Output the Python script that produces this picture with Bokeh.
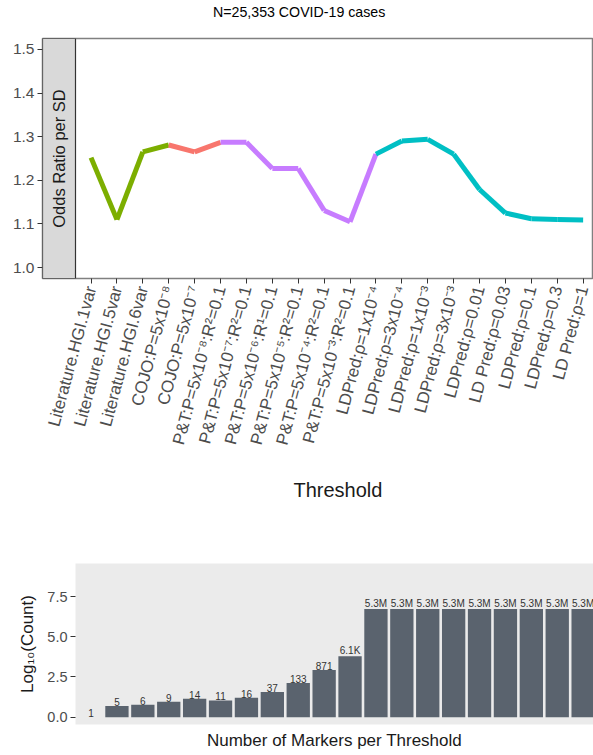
import math
import numpy as np
from bokeh.plotting import figure
from bokeh.models import (ColumnDataSource, FixedTicker, NumeralTickFormatter,
                          BoxAnnotation, Label, Title, Div)
from bokeh.layouts import column
from bokeh.embed import file_html
from bokeh.resources import INLINE
from bokeh.core.properties import value

# ---------------- data ----------------
thresholds = [
    "Literature.HGI.1var", "Literature.HGI.5var", "Literature.HGI.6var",
    "COJO:P=5x10⁻⁸", "COJO:P=5x10⁻⁷",
    "P&T:P=5x10⁻⁸:R²=0.1", "P&T:P=5x10⁻⁷:R²=0.1", "P&T:P=5x10⁻⁶:R¹=0.1",
    "P&T:P=5x10⁻⁵:R²=0.1", "P&T:P=5x10⁻⁴:R²=0.1", "P&T:P=5x10⁻³:R²=0.1",
    "LDPred:ρ=1x10⁻⁴", "LDPred:ρ=3x10⁻⁴", "LDPred:ρ=1x10⁻³", "LDPred:ρ=3x10⁻³",
    "LDPred:ρ=0.01", "LD Pred:ρ=0.03", "LDPred:ρ=0.1", "LDPred:ρ=0.3", "LD Pred:ρ=1",
]
groups = ["Literature", "Literature", "Literature",
          "COJO", "COJO",
          "P&T", "P&T", "P&T", "P&T", "P&T", "P&T",
          "LDPred", "LDPred", "LDPred", "LDPred", "LDPred",
          "LDPred", "LDPred", "LDPred", "LDPred"]
odds_ratio = [1.252, 1.110, 1.265, 1.281, 1.265,
              1.287, 1.287, 1.227, 1.227, 1.131, 1.105,
              1.260, 1.290, 1.294, 1.260, 1.179, 1.125, 1.112, 1.110, 1.109]
group_colors = {"Literature": "#7CAE00", "COJO": "#F8766D",
                "P&T": "#C77CFF", "LDPred": "#00BFC4"}
or_ticks = [1.0, 1.1, 1.2, 1.3, 1.4, 1.5]

marker_counts = [1, 5, 6, 9, 14, 11, 16, 37, 133, 871, 6100,
                 5300000, 5300000, 5300000, 5300000, 5300000,
                 5300000, 5300000, 5300000, 5300000]
count_ticks = [0.0, 2.5, 5.0, 7.5]

FONT = "Liberation Sans"
TICK_COL = "#4D4D4D"
DARK = "#333333"


def fmt_count(c):
    if c >= 1e6:
        return f"{c/1e6:.1f}M"
    if c >= 1e3:
        return f"{c/1e3:.1f}K"
    return str(c)


n = len(thresholds)
x_idx = list(range(n))

# ---------------- title ----------------
title_div = Div(text="N=25,353 COVID-19 cases", width=593, height=24,
                margin=0,
                styles={"font-family": FONT, "font-size": "14.2px",
                        "line-height": "24px", "text-indent": "213px",
                        "color": "#000000", "white-space": "nowrap"})

# ---------------- top panel ----------------
PPU = 25.9                 # pixels per category
STRIP_PX = 33
Y0, Y1 = 0.975, 1.525
x_start = -0.6 - STRIP_PX / PPU
x_end = -0.6 + 518 / PPU

p1 = figure(frame_width=551, frame_height=240,
            min_border_left=42, min_border_right=0,
            min_border_top=14, min_border_bottom=252,
            x_range=(x_start, x_end), y_range=(Y0, Y1),
            output_backend="svg", toolbar_location=None)
p1.frame_align = False

seg_src = ColumnDataSource(dict(
    x0=x_idx[:-1], x1=x_idx[1:],
    y0=odds_ratio[:-1], y1=odds_ratio[1:],
    color=[group_colors[g] for g in groups[:-1]],
))
p1.segment("x0", "y0", "x1", "y1", source=seg_src, line_color="color",
           line_width=5, line_cap="butt")

strip = BoxAnnotation(right=x_start + STRIP_PX / PPU, fill_color="#D9D9D9",
                      fill_alpha=1.0, line_color=DARK, line_width=1.2,
                      line_alpha=1.0)
p1.add_layout(strip)
p1.add_layout(Label(x=x_start + STRIP_PX / 2 / PPU, y=(Y0 + Y1) / 2,
                    text="Odds Ratio per SD", angle=math.pi / 2,
                    text_align="center", text_baseline="middle",
                    text_font=FONT, text_font_size="16.5px",
                    text_color="#1A1A1A"))

p1.xgrid.grid_line_color = None
p1.ygrid.grid_line_color = None
p1.outline_line_color = "#808080"
p1.outline_line_width = 1.5

p1.xaxis.ticker = FixedTicker(ticks=x_idx)
p1.xaxis.major_label_overrides = {i: lab for i, lab in enumerate(thresholds)}
p1.xaxis.major_label_orientation = math.radians(75)
p1.yaxis.ticker = FixedTicker(ticks=or_ticks)
p1.yaxis.formatter = NumeralTickFormatter(format="0.0")
for ax in (p1.xaxis, p1.yaxis):
    ax.axis_line_color = None
    ax.major_tick_in = 0
    ax.major_tick_out = 5
    ax.minor_tick_line_color = None
    ax.major_tick_line_color = DARK
    ax.major_label_text_color = TICK_COL
    ax.major_label_text_font = FONT
p1.xaxis.major_label_text_font_size = "17px"
p1.yaxis.major_label_text_font_size = "15.5px"
p1.xaxis.major_label_standoff = 3
p1.yaxis.major_label_standoff = 3

p1.add_layout(Title(text="Threshold", align="left", offset=251,
                    text_font=FONT, text_font_size="20px",
                    text_font_style="normal", text_color="#1A1A1A",
                    standoff=49), "below")

# ---------------- bottom panel ----------------
log_counts = [float(np.log10(c)) for c in marker_counts]
count_labels = [fmt_count(c) for c in marker_counts]

p2 = figure(frame_width=518, frame_height=161,
            min_border_left=75, min_border_right=0,
            min_border_top=33, min_border_bottom=31,
            x_range=(-0.6, x_end), y_range=(-0.455, 9.555),
            background_fill_color="#EBEBEB",
            output_backend="svg", toolbar_location=None)
p2.frame_align = False

bar_src = ColumnDataSource(dict(x=x_idx, top=log_counts, label=count_labels))
p2.vbar(x="x", top="top", bottom=0, width=0.9, source=bar_src,
        fill_color="#5A636E", line_color=None)
p2.text(x="x", y="top", text="label", source=bar_src,
        text_align="center", text_baseline="bottom",
        text_font=value(FONT), text_font_size="10px", text_color="#333333")

p2.xgrid.grid_line_color = None
p2.ygrid.grid_line_color = None
p2.outline_line_color = None

p2.xaxis.ticker = FixedTicker(ticks=[])
p2.xaxis.axis_line_color = None
p2.xaxis.major_tick_out = 0
p2.xaxis.major_tick_in = 0
p2.xaxis.minor_tick_line_color = None
p2.xaxis.axis_label = "Number of Markers per Threshold"
p2.xaxis.axis_label_standoff = 6

p2.yaxis.ticker = FixedTicker(ticks=count_ticks)
p2.yaxis.formatter = NumeralTickFormatter(format="0.0")
p2.yaxis.axis_line_color = None
p2.yaxis.major_tick_in = 0
p2.yaxis.major_tick_out = 5
p2.yaxis.minor_tick_line_color = None
p2.yaxis.major_tick_line_color = DARK
p2.yaxis.major_label_text_color = TICK_COL
p2.yaxis.major_label_text_font = FONT
p2.yaxis.major_label_text_font_size = "14.5px"
p2.yaxis.major_label_standoff = 3
p2.yaxis.axis_label = "Log₁₀(Count)"
p2.yaxis.axis_label_standoff = 7

for ax in (p2.xaxis, p2.yaxis):
    ax.axis_label_text_font = FONT
    ax.axis_label_text_font_size = "17px"
    ax.axis_label_text_font_style = "normal"
    ax.axis_label_text_color = "#1A1A1A"

layout = column(title_div, p1, p2)
open("out.html", "w").write(file_html(layout, INLINE))
